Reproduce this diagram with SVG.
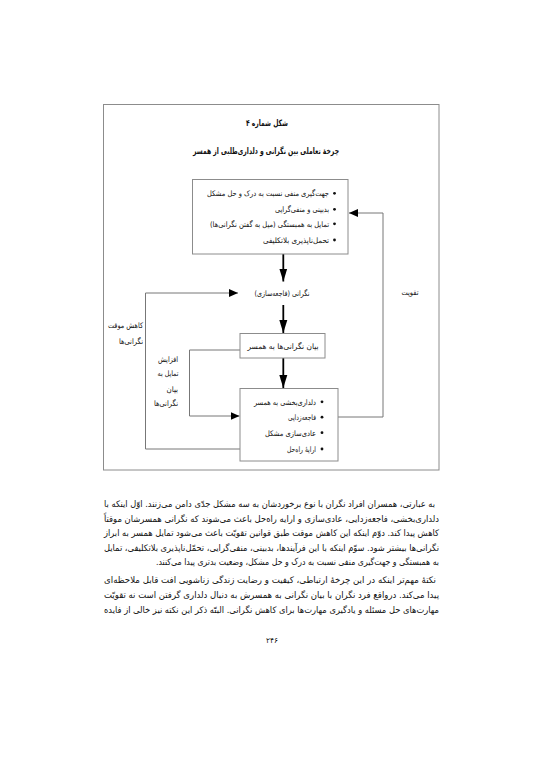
<svg xmlns="http://www.w3.org/2000/svg" width="543" height="768" viewBox="0 0 543 768">
<style>
text{font-family:"DejaVu Sans",sans-serif;fill:#111;}
.rtl{direction:rtl;text-anchor:start;}
.mid{text-anchor:middle;}
.t{font-size:9px;}
.s{font-size:7.7px;}
.b{font-size:8.8px;}
.bold{font-weight:bold;}
.box{fill:#fff;stroke:#8c8c8c;stroke-width:1;}
.thin{fill:none;stroke:#777;stroke-width:1;}
.thick{fill:none;stroke:#000;stroke-width:1.8;}
.dot{fill:#111;}
</style>
<defs>
<marker id="ah" markerUnits="userSpaceOnUse" markerWidth="10" markerHeight="14" viewBox="0 0 10 14" refX="9" refY="7" orient="auto">
<path d="M0,3 L9,7 L0,11 Z" fill="#000"/>
</marker>
<marker id="ahBig" markerUnits="userSpaceOnUse" markerWidth="14" markerHeight="10" viewBox="0 0 14 10" refX="13" refY="5" orient="auto">
<path d="M0,1 L13,5 L0,9 Z" fill="#000"/>
</marker>
</defs>
<rect width="543" height="768" fill="#fff"/>
<rect x="103.5" y="104.5" width="335.5" height="365.5" fill="none" stroke="#8c8c8c" stroke-width="1"/>

<g id="titles">
<text class="b bold mid" x="267" y="126" textLength="42" lengthAdjust="spacingAndGlyphs">شکل شماره ۴</text>
<text class="b bold mid" x="266" y="154" textLength="146" lengthAdjust="spacingAndGlyphs">چرخهٔ تعاملی بین نگرانی و دلداری‌طلبی از همسر</text>
</g>

<g id="connectors">
<path class="thick" d="M283.3,254 V281.5" marker-end="url(#ahBig)"/>
<path class="thick" d="M283.3,305 V333" marker-end="url(#ahBig)"/>
<path class="thick" d="M283.3,358 V388" marker-end="url(#ahBig)"/>
<path class="thin" d="M338,417 H383 V213 H349" marker-end="url(#ah)"/>
<path class="thin" d="M240,449 H145.5 V293 H238" marker-end="url(#ah)"/>
<path class="thin" d="M240,350 H189.5 V416 H239.5" marker-end="url(#ah)"/>
</g>

<g id="node-beliefs">
<rect class="box" x="192.5" y="179.5" width="155.5" height="74.5"/>
<circle class="dot" cx="334.5" cy="193.3" r="1.4"/>
<circle class="dot" cx="334.5" cy="209.3" r="1.4"/>
<circle class="dot" cx="334.5" cy="223.8" r="1.4"/>
<circle class="dot" cx="334.5" cy="240" r="1.4"/>
<text class="s rtl" x="329" y="196" textLength="122" lengthAdjust="spacingAndGlyphs">جهت‌گیری منفی نسبت به درک و حل مشکل</text>
<text class="s rtl" x="329" y="212" textLength="54" lengthAdjust="spacingAndGlyphs">بدبینی و منفی‌گرایی</text>
<text class="s rtl" x="329" y="226.5" textLength="119" lengthAdjust="spacingAndGlyphs">تمایل به همبستگی (میل به گفتن نگرانی‌ها)</text>
<text class="s rtl" x="329" y="242.7" textLength="66" lengthAdjust="spacingAndGlyphs">تحمل‌ناپذیری بلاتکلیفی</text>
</g>

<g id="node-worry">
<text class="s mid" x="282" y="295.5" textLength="55" lengthAdjust="spacingAndGlyphs">نگرانی (فاجعه‌سازی)</text>
</g>

<g id="node-express">
<rect class="box" x="240" y="333.5" width="85" height="24.5"/>
<text class="s mid" x="283" y="348.5" textLength="71" lengthAdjust="spacingAndGlyphs">بیان نگرانی‌ها به همسر</text>
</g>

<g id="node-reassure">
<rect class="box" x="240" y="388.5" width="98" height="72.5"/>
<circle class="dot" cx="322" cy="401.8" r="1.4"/>
<circle class="dot" cx="322" cy="417.2" r="1.4"/>
<circle class="dot" cx="322" cy="432.7" r="1.4"/>
<circle class="dot" cx="322" cy="449" r="1.4"/>
<text class="s rtl" x="316" y="404.5" textLength="62" lengthAdjust="spacingAndGlyphs">دلداری‌بخشی به همسر</text>
<text class="s rtl" x="316" y="420" textLength="28" lengthAdjust="spacingAndGlyphs">فاجعه‌زدایی</text>
<text class="s rtl" x="316" y="435.5" textLength="51" lengthAdjust="spacingAndGlyphs">عادی‌سازی مشکل</text>
<text class="s rtl" x="316" y="451.7" textLength="29" lengthAdjust="spacingAndGlyphs">ارایهٔ راه‌حل</text>
</g>

<g id="labels">
<text class="s mid" x="410" y="294.5" textLength="17" lengthAdjust="spacingAndGlyphs">تقویت</text>
<text class="s rtl" x="143" y="328" textLength="35" lengthAdjust="spacingAndGlyphs">کاهش موقت</text>
<text class="s rtl" x="143" y="343.5" textLength="24" lengthAdjust="spacingAndGlyphs">نگرانی‌ها</text>
<text class="s rtl" x="178" y="361.5" textLength="20" lengthAdjust="spacingAndGlyphs">افزایش</text>
<text class="s rtl" x="178.5" y="376" textLength="21" lengthAdjust="spacingAndGlyphs">تمایل به</text>
<text class="s rtl" x="178" y="391.5" textLength="11.5" lengthAdjust="spacingAndGlyphs">بیان</text>
<text class="s rtl" x="178" y="406" textLength="24" lengthAdjust="spacingAndGlyphs">نگرانی‌ها</text>
</g>

<g id="body-text">
<text class="t rtl" x="435" y="507" textLength="331" lengthAdjust="spacingAndGlyphs">به عبارتی، همسران افراد نگران با نوع برخوردشان به سه مشکل جدّی دامن می‌زنند. اوّل اینکه با</text>
<text class="t rtl" x="439" y="521.5" textLength="335" lengthAdjust="spacingAndGlyphs">دلداری‌بخشی، فاجعه‌زدایی، عادی‌سازی و ارایه راه‌حل باعث می‌شوند که نگرانی همسرشان موقتاً</text>
<text class="t rtl" x="439" y="536" textLength="335" lengthAdjust="spacingAndGlyphs">کاهش پیدا کند. دوّم اینکه این کاهش موقت طبق قوانین تقویّت باعث می‌شود تمایل همسر به ابراز</text>
<text class="t rtl" x="439" y="550.5" textLength="335" lengthAdjust="spacingAndGlyphs">نگرانی‌ها بیشتر شود. سوّم اینکه با این فرآیندها، بدبینی، منفی‌گرایی، تحمّل‌ناپذیری بلاتکلیفی، تمایل</text>
<text class="t rtl" x="439" y="565" textLength="283" lengthAdjust="spacingAndGlyphs">به همبستگی و جهت‌گیری منفی نسبت به درک و حل مشکل، وضعیت بدتری پیدا می‌کنند.</text>
<text class="t rtl" x="436" y="583" textLength="332" lengthAdjust="spacingAndGlyphs">نکتهٔ مهم‌تر اینکه در این چرخهٔ ارتباطی، کیفیت و رضایت زندگی زناشویی افت قابل ملاحظه‌ای</text>
<text class="t rtl" x="439" y="598" textLength="335" lengthAdjust="spacingAndGlyphs">پیدا می‌کند. درواقع فرد نگران با بیان نگرانی به همسرش به دنبال دلداری گرفتن است نه تقویّت</text>
<text class="t rtl" x="439" y="613" textLength="335" lengthAdjust="spacingAndGlyphs">مهارت‌های حل مسئله و یادگیری مهارت‌ها برای کاهش نگرانی. البتّه ذکر این نکته نیز خالی از فایده</text>
<text class="s mid" x="272" y="643" textLength="12" lengthAdjust="spacingAndGlyphs">۲۴۶</text>
</g>
</svg>
